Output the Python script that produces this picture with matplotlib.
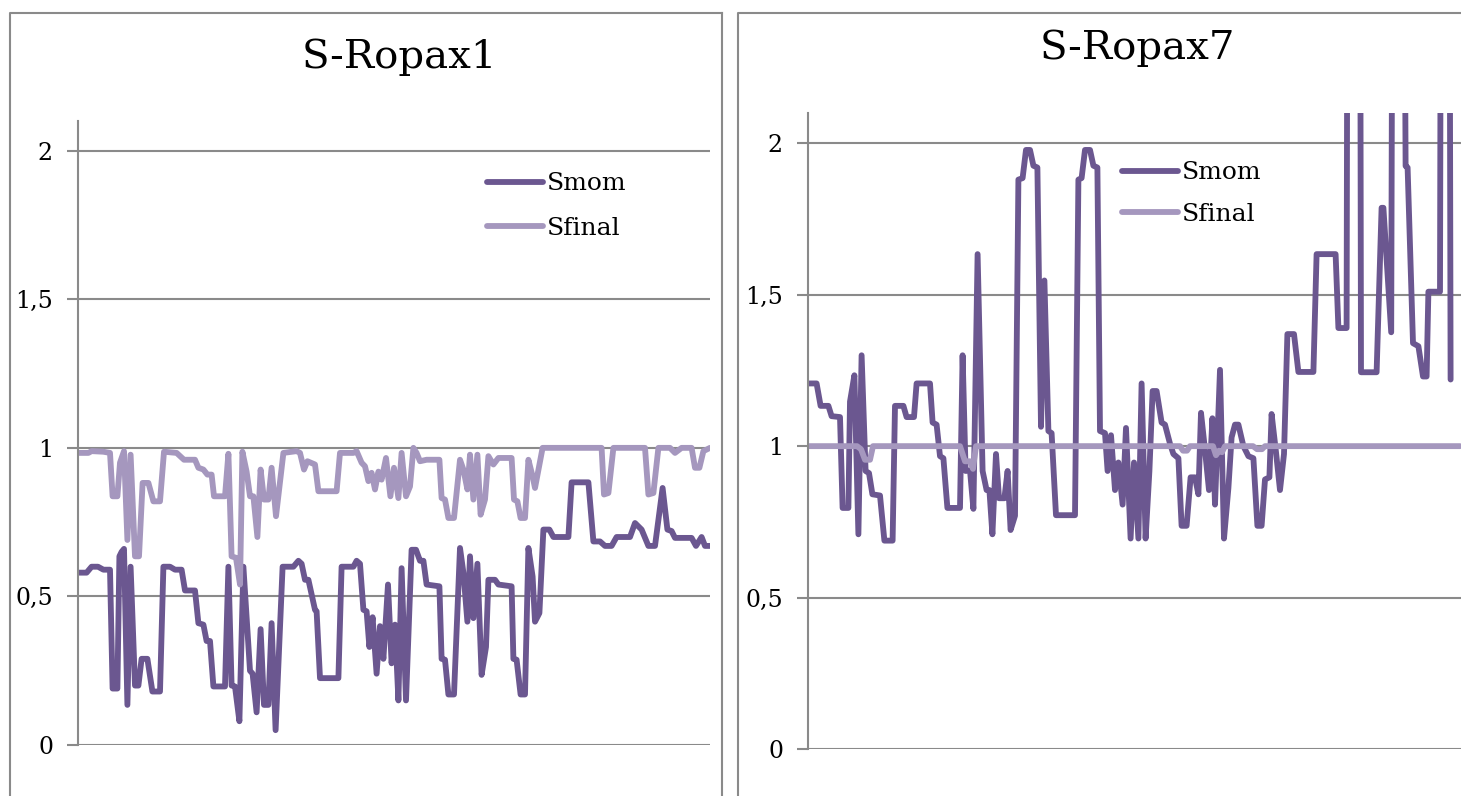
import matplotlib
matplotlib.use("Agg")
import matplotlib.pyplot as plt
from matplotlib.lines import Line2D

W, H = 1461, 796

# S-Ropax1, sample index / value pairs
ropax1_mom_t = [0, 4.3, 6.8, 10, 12.7, 16, 17.3, 19.7, 20.7, 21.8, 23, 24.7, 26.3, 28.5, 30.2,
                31.8, 34.7, 37.2, 41, 42.7, 46, 48.5, 51.8, 53.5, 58.5, 60.2, 62.7, 64.3, 66,
                67.7, 73.5, 75.2, 76.8, 78.5, 80.7, 82.7, 86, 87.3, 89.3, 91.3, 93, 95.2, 96.8,
                98.8, 102.3, 107.7, 110.2, 111.8, 113.5, 115.2, 118.5, 119.3, 121, 130.2, 131.8,
                137.7, 139.3, 141, 142.7, 144.3, 145.7, 147.3, 149.3, 151, 152.7, 155, 156.8,
                158.5, 160.2, 161.8, 164, 166.8, 169, 171, 172.7, 174.3, 180.7, 181.8, 183.5,
                185.2, 188, 191, 192.7, 194.7, 196, 197.7, 199.7, 201.8, 204, 205.2, 208.5,
                210.2, 216.8, 217.7, 219.3, 221.3, 223.5, 225.2, 227.3, 228.5, 230.7, 232.7,
                235.7, 237.7, 245.2, 246.8, 255.2, 257.7, 261, 263.5, 266.8, 269.3, 276, 278.5,
                281.8, 285.2, 288.5, 292.3, 294.7, 296.8, 298.5, 306.8, 309, 311.8, 313.5, 316]
ropax1_mom = [0.58, 0.58, 0.60, 0.60, 0.59, 0.59, 0.19, 0.19, 0.635, 0.65, 0.66, 0.135, 0.60, 0.20, 0.20,
              0.29, 0.29, 0.18, 0.18, 0.60, 0.60, 0.59, 0.59, 0.52, 0.52, 0.41, 0.405, 0.35, 0.35,
              0.197, 0.197, 0.60, 0.20, 0.197, 0.08, 0.60, 0.25, 0.24, 0.11, 0.39, 0.135, 0.135, 0.41,
              0.05, 0.60, 0.60, 0.62, 0.61, 0.556, 0.556, 0.455, 0.45, 0.225, 0.225, 0.60,
              0.60, 0.62, 0.61, 0.455, 0.45, 0.33, 0.43, 0.24, 0.40, 0.29, 0.54, 0.275,
              0.405, 0.15, 0.595, 0.15, 0.657, 0.657, 0.62, 0.62, 0.54, 0.534, 0.29, 0.287,
              0.17, 0.17, 0.663, 0.58, 0.415, 0.635, 0.427, 0.61, 0.236, 0.33, 0.556, 0.556,
              0.54, 0.534, 0.29, 0.287, 0.17, 0.17, 0.663, 0.567, 0.415, 0.444, 0.725,
              0.725, 0.70, 0.70, 0.884, 0.884, 0.685, 0.685, 0.67, 0.67, 0.70, 0.70, 0.747,
              0.725, 0.67, 0.67, 0.865, 0.725, 0.72, 0.697, 0.697, 0.67, 0.70, 0.67, 0.67]

ropax1_final_t = [0, 5.2, 6.8, 12.7, 16, 17.3, 19.7, 21, 23, 24.7, 26.3, 28.5, 30.5, 32.3, 35.2,
                  37.7, 41, 43, 49.3, 53, 58.5, 60.2, 62.7, 64.7, 66.8, 68, 73.5, 75.2, 76.8, 79,
                  81, 82.2, 84.3, 86, 87.7, 89.7, 91.3, 93, 95.2, 96.8, 99, 102.7, 109.3, 111, 113,
                  114.7, 118.5, 120.2, 129.3, 131, 137.7, 139.3, 141.8, 143.5, 145.2, 146.8, 148.5,
                  150.2, 151.8, 154, 156.2, 158, 160.2, 161.8, 164, 166, 167.7, 169.3, 171, 174.3,
                  180.7, 181.8, 183.5, 185.2, 188, 191, 192.7, 194.7, 196, 197.7, 199.7, 201.3,
                  203.5, 205.2, 207.7, 210.2, 216.8, 218, 219.7, 221.3, 223.5, 225.2, 227.3, 228.5,
                  232.3, 261.8, 263, 265.2, 267.7, 283.5, 285.2, 287.7, 290.2, 296, 298.5, 301.8,
                  306.8, 308.5, 310.7, 312.7, 316]
ropax1_final = [0.983, 0.983, 0.989, 0.987, 0.983, 0.837, 0.837, 0.95, 0.989, 0.69, 0.977, 0.635, 0.635, 0.882, 0.882,
                0.82, 0.82, 0.987, 0.983, 0.96, 0.96, 0.933, 0.927, 0.91, 0.91, 0.837, 0.837, 0.98, 0.635, 0.63,
                0.54, 0.987, 0.92, 0.837, 0.837, 0.70, 0.927, 0.826, 0.826, 0.933, 0.77, 0.983, 0.989, 0.983, 0.927,
                0.955, 0.944, 0.854, 0.854, 0.983, 0.983, 0.989, 0.95, 0.938, 0.888, 0.916, 0.86,
                0.92, 0.893, 0.966, 0.837, 0.933, 0.831, 0.983, 0.837, 0.87, 1.0, 0.983, 0.955, 0.96,
                0.96, 0.831, 0.826, 0.764, 0.764, 0.96, 0.927, 0.86, 0.977, 0.826, 0.977, 0.775,
                0.826, 0.972, 0.944, 0.966, 0.966, 0.826, 0.82, 0.764, 0.764, 0.96, 0.904, 0.865,
                1.0, 1.0, 0.843, 0.848, 1.0, 1.0, 0.843, 0.848, 1.0, 1.0, 0.983, 1.0,
                1.0, 0.933, 0.933, 0.989, 1.0]

# S-Ropax7 (peaks above the axis top are cut off in the original)
ropax7_mom_t = [0, 4.3, 6.3, 10.2, 11.8, 16, 17.3, 20.2, 21, 23.2, 25.2, 26.8, 28.8, 30.5, 32.2,
                36, 38.2, 42.3, 43.5, 47.7, 49.3, 53, 54.3, 61, 62.3, 64.3, 66, 67.7, 69.7, 76,
                77.3, 78.8, 81, 82.7, 84.8, 87.3, 89.3, 90.7, 92.2, 94, 95.5, 98.2, 99.8, 101.3,
                103.5, 105.2, 107.3, 109, 111, 112.7, 114.7, 116.5, 118.2, 120.2, 121.8, 124,
                133.5, 135.2, 136.8, 138.5, 141, 142.7, 144.7, 146, 148.5, 149.8, 151.5, 153.5,
                155.2, 157.3, 159, 161.3, 163, 165.2, 166.8, 168.8, 170.7, 172.3, 174.3, 176.8,
                178.5, 181, 182.7, 185.2, 186.8, 189.3, 191.3, 193.5, 195.2, 196.5, 198.5, 200.5,
                202.2, 203.5, 206, 208, 210.2, 211.8, 213.5, 215.2, 217.7, 220.2, 222.7, 224.7,
                226.8, 228.5, 230.7, 231.8, 234, 236, 238, 239.7, 243, 245.2, 252.7, 254.3,
                263.8, 265.2, 269.3, 269.8, 276, 276.5, 284.3, 286.8, 287.7, 291.6, 292.3, 298,
                298.8, 299.8, 302.5, 305.2, 307.5, 309.3, 310.2, 316, 316.5, 320.7, 321.3]
ropax7_mom = [1.207, 1.207, 1.133, 1.133, 1.099, 1.096, 0.796, 0.796, 1.147, 1.234, 0.709, 1.30, 0.918, 0.911, 0.841,
              0.837, 0.688, 0.688, 1.133, 1.133, 1.096, 1.096, 1.207, 1.207, 1.078, 1.071, 0.967, 0.96, 0.796, 0.796,
              1.30, 0.918, 0.92, 0.793, 1.634, 0.918, 0.855, 0.855, 0.709, 0.974, 0.828, 0.828, 0.918, 0.723,
              0.77, 1.88, 1.885, 1.978, 1.978, 1.926, 1.92, 1.064, 1.547, 1.05, 1.043, 0.772,
              0.772, 1.88, 1.885, 1.978, 1.978, 1.926, 1.92, 1.05, 1.043, 0.918, 1.036, 0.855,
              0.946, 0.807, 1.06, 0.695, 0.946, 0.695, 1.207, 0.695, 0.918, 1.182, 1.182, 1.078,
              1.071, 1.008, 0.974, 0.96, 0.737, 0.737, 0.897, 0.897, 0.841, 1.11, 0.987, 0.855,
              1.092, 0.807, 1.252, 0.695, 0.862, 1.029, 1.071, 1.071, 1.0, 0.967, 0.96, 0.737,
              0.737, 0.89, 0.897, 1.106, 0.98, 0.855, 0.974, 1.37, 1.37, 1.245, 1.245, 1.634,
              1.634, 1.39, 1.39, 3.0, 3.0, 1.244, 1.244, 1.787, 1.787, 1.376, 3.0, 3.0,
              1.925, 1.92, 1.34, 1.33, 1.23, 1.23, 1.51, 1.51, 3.0, 3.0, 1.22]

ropax7_final_t = [0, 24.5, 26.5, 28.5, 31, 32.5, 76, 78.5, 81, 82.5, 84, 186, 187.5, 189.5, 191,
                  202.5, 204, 205.5, 207, 208.5, 222.5, 224.5, 227, 228.5, 326]
ropax7_final = [1.0, 1.0, 0.99, 0.955, 0.955, 1.0, 1.0, 0.95, 0.95, 0.925, 1.0, 1.0, 0.985, 0.985, 1.0,
                1.0, 0.97, 0.985, 0.98, 1.0, 1.0, 0.99, 0.99, 1.0, 1.0]

yticks = [0, 0.5, 1, 1.5, 2]
ytick_labels = ["0", "0,5", "1", "1,5", "2"]

MOM_COLOR = "#6b5790"
FINAL_COLOR = "#a597be"
GRID_COLOR = "#8a8a8a"

plt.rcParams["font.family"] = "DejaVu Serif"

fig = plt.figure(figsize=(W / 100, H / 100), dpi=100)


def px_box(x0, x1, y_top, y_bot):
    # axes rectangle in figure fractions from pixel edges
    return [x0 / W, 1 - y_bot / H, (x1 - x0) / W, (y_bot - y_top) / H]


def panel(rect, xmax, t_mom, mom, t_fin, fin, title, title_xy, leg_xy, spacing):
    ax = fig.add_axes(rect)
    ax.plot(t_mom, mom, color=MOM_COLOR, lw=4.2, solid_joinstyle="round",
            solid_capstyle="round", label="Smom")
    ax.plot(t_fin, fin, color=FINAL_COLOR, lw=4.2, solid_joinstyle="round",
            solid_capstyle="round", label="Sfinal")
    ax.set_xlim(0, xmax)
    ax.set_ylim(0, 2.1)
    ax.set_yticks(yticks)
    ax.set_yticklabels(ytick_labels, fontsize=17)
    ax.set_xticks([])
    ax.yaxis.grid(True, color=GRID_COLOR, lw=1.5)
    ax.set_axisbelow(True)
    for s in ["top", "right", "bottom"]:
        ax.spines[s].set_visible(False)
    ax.spines["left"].set_color(GRID_COLOR)
    ax.spines["left"].set_linewidth(1.5)
    ax.tick_params(axis="y", direction="out", length=8, width=1.5,
                   color=GRID_COLOR, pad=10)
    ax.legend(loc="center left", bbox_to_anchor=(leg_xy[0] / W, 1 - leg_xy[1] / H),
              bbox_transform=fig.transFigure, frameon=False, borderpad=0,
              borderaxespad=0, handlelength=2.25, handletextpad=0.15,
              labelspacing=spacing, fontsize=18)
    fig.text(title_xy[0] / W, 1 - title_xy[1] / H, title, ha="center",
             va="baseline", fontsize=29)
    return ax


panel(px_box(78, 710, 121, 745), 316, ropax1_mom_t, ropax1_mom,
      ropax1_final_t, ropax1_final, "S-Ropax1", (399, 68), (487, 206), 0.85)
panel(px_box(808, 1468, 113, 749), 330, ropax7_mom_t, ropax7_mom,
      ropax7_final_t, ropax7_final, "S-Ropax7", (1137, 59), (1122, 193.5), 0.73)

# chart frames around each panel
for x0, x1 in [(10, 722), (738, 1490)]:
    fig.add_artist(Line2D([x0 / W, x0 / W, x1 / W], [0, 1 - 12.5 / H, 1 - 12.5 / H],
                          transform=fig.transFigure, color=GRID_COLOR, lw=1.5))
    fig.add_artist(Line2D([x1 / W, x1 / W], [0, 1 - 12.5 / H],
                          transform=fig.transFigure, color=GRID_COLOR, lw=1.5))

fig.savefig("out.png", dpi=100)
